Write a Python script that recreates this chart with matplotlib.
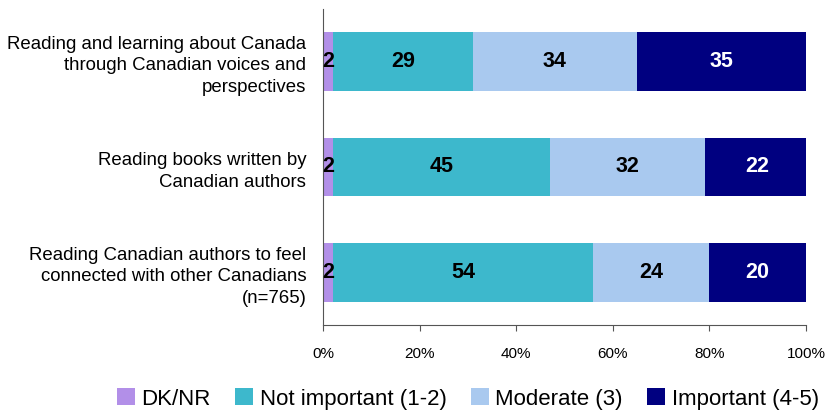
import matplotlib
matplotlib.use("Agg")
import matplotlib.pyplot as plt
import numpy as np

categories = [
    "Reading and learning about Canada\nthrough Canadian voices and\nperspectives",
    "Reading books written by\nCanadian authors",
    "Reading Canadian authors to feel\nconnected with other Canadians\n(n=765)",
]
series_names = ["DK/NR", "Not important (1-2)", "Moderate (3)", "Important (4-5)"]
dk_nr = [2, 2, 2]
not_important = [29, 45, 54]
moderate = [34, 32, 24]
important = [35, 22, 20]
colors = ["#B28FE8", "#3DB8CC", "#A9C9EF", "#000080"]
label_colors = ["black", "black", "black", "white"]
xticks = [0, 20, 40, 60, 80, 100]

plt.rcParams["font.family"] = ["Liberation Sans", "DejaVu Sans"]

fig = plt.figure(figsize=(8.25, 4.15), dpi=100)
ax = fig.add_axes([323/825, 1-325/415, (806-323)/825, (325-9)/415])

data = [dk_nr, not_important, moderate, important]
y = np.arange(len(categories))
left = np.zeros(len(categories))
for vals, name, c, lc in zip(data, series_names, colors, label_colors):
    vals = np.array(vals, dtype=float)
    ax.barh(y, vals, left=left, height=0.56, color=c, label=name)
    for yi, l, v in zip(y, left, vals):
        ax.text(l + v/2, yi, f"{int(v)}", ha="center", va="center",
                fontsize=15.5, fontweight="bold", color=lc)
    left += vals

ax.set_xlim(0, 100)
ax.set_ylim(2.5, -0.5)
ax.set_yticks(y)
ax.set_yticklabels(categories, fontsize=13.4, linespacing=1.35)
ax.tick_params(axis="y", length=0, pad=12)
ax.set_xticks(xticks)
ax.set_xticklabels([f"{t}%" for t in xticks], fontsize=11)
ax.tick_params(axis="x", direction="out", length=4, pad=12, color="#555555")
for s in ["top", "right"]:
    ax.spines[s].set_visible(False)
ax.spines["left"].set_color("#555555")
ax.spines["bottom"].set_color("#555555")

fig.legend(loc="center", bbox_to_anchor=(468/825, 1-399/415), ncol=4, frameon=False,
           fontsize=16, handlelength=0.8, handleheight=0.8, handletextpad=0.3,
           columnspacing=1.1, borderpad=0.0, borderaxespad=0.0)

fig.savefig("out.png", dpi=100)
